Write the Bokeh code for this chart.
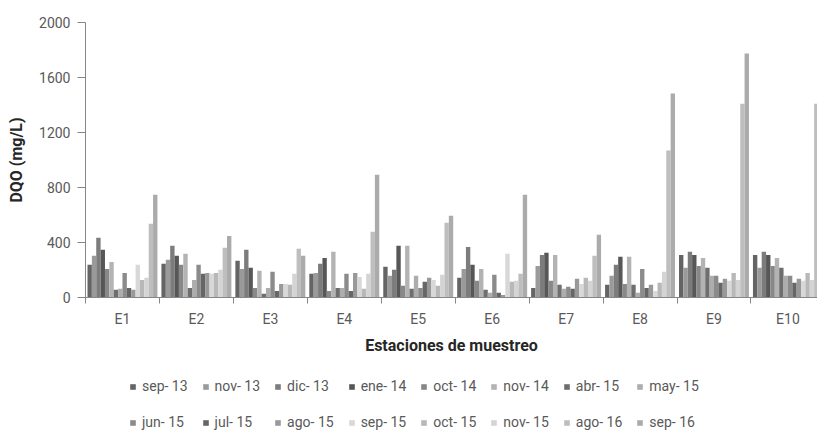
from bokeh.plotting import figure
from bokeh.layouts import column
from bokeh.models import Range1d, FixedTicker, Legend, LegendItem, ColumnDataSource
from bokeh.embed import file_html
from bokeh.resources import INLINE

stations = ["E1", "E2", "E3", "E4", "E5", "E6", "E7", "E8", "E9", "E10"]
months = ["sep- 13", "nov- 13", "dic- 13", "ene- 14", "oct- 14", "nov- 14", "abr- 15", "may- 15",
          "jun- 15", "jul- 15", "ago- 15", "sep- 15", "oct- 15", "nov- 15", "ago- 16", "sep- 16"]

sep_13 = [238, 245, 267, 172, 223, 143, 70, 92, 310, 310]
nov_13 = [303, 274, 208, 179, 158, 208, 230, 158, 216, 216]
dic_13 = [434, 376, 347, 245, 201, 368, 310, 238, 332, 332]
ene_14 = [347, 303, 216, 288, 376, 238, 325, 296, 310, 310]
oct_14 = [208, 238, 70, 48, 85, 121, 121, 99, 230, 230]
nov_14 = [259, 318, 194, 332, 376, 208, 310, 296, 288, 288]
abr_15 = [56, 70, 27, 70, 63, 56, 92, 92, 216, 216]
may_15 = [63, 128, 70, 70, 158, 34, 63, 34, 158, 158]
jun_15 = [179, 238, 187, 172, 70, 165, 78, 208, 158, 158]
jul_15 = [70, 172, 48, 48, 114, 34, 63, 70, 107, 107]
ago_15 = [56, 179, 99, 179, 143, 19, 136, 92, 136, 136]
sep_15 = [238, 172, 99, 150, 128, 318, 99, 48, 121, 121]
oct_15 = [128, 179, 92, 63, 85, 114, 143, 107, 179, 179]
nov_15 = [143, 201, 172, 172, 165, 121, 121, 187, 128, 128]
ago_16 = [536, 361, 354, 478, 543, 172, 303, 1069, 1410, 1410]
sep_16 = [747, 448, 303, 892, 594, 747, 456, 1483, 1774, 1774]

series = [sep_13, nov_13, dic_13, ene_14, oct_14, nov_14, abr_15, may_15,
          jun_15, jul_15, ago_15, sep_15, oct_15, nov_15, ago_16, sep_16]

colors = ["#646464", "#9a9a9a", "#7c7c7c", "#575757", "#888888", "#b3b3b3", "#6e6e6e", "#adadad",
          "#8b8b8b", "#666666", "#999999", "#d8d8d8", "#b8b8b8", "#d4d4d4", "#bebebe", "#ababab"]

y_ticks = [0, 400, 800, 1200, 1600, 2000]

FONT = "Roboto"
n = len(months)
pad = 0.027
bw = (1 - 2 * pad) / n

W = 817
LEG_H = 76

p = figure(width=W, height=433 - LEG_H, output_backend="svg", toolbar_location=None,
           x_range=Range1d(0, 9.90), y_range=Range1d(0, 2000),
           min_border_left=85, min_border_right=0, min_border_top=22, min_border_bottom=55)
p.outline_line_color = None
p.xgrid.visible = False
p.ygrid.visible = False

sources = []
for j, (vals, c) in enumerate(zip(series, colors)):
    xs = [k + pad + (j + 0.5) * bw for k in range(len(stations))]
    src = ColumnDataSource(dict(x=xs, top=vals))
    sources.append(src)
    p.vbar(x="x", top="top", bottom=0, width=bw, source=src,
           fill_color=c, line_color=None)

axis_col = "#868686"

# y axis
p.yaxis.ticker = FixedTicker(ticks=y_ticks)
p.yaxis.axis_label = "DQO (mg/L)"
p.yaxis.axis_label_text_font = FONT
p.yaxis.axis_label_text_font_style = "bold"
p.yaxis.axis_label_text_font_size = "16px"
p.yaxis.axis_label_text_color = "#262626"
p.yaxis.axis_label_standoff = 10
p.yaxis.major_label_text_font = FONT
p.yaxis.major_label_text_font_size = "14px"
p.yaxis.major_label_text_color = "#595959"
p.yaxis.major_label_standoff = 7
p.yaxis.major_tick_out = 8
p.yaxis.major_tick_in = 0
p.yaxis.minor_tick_line_color = None
p.yaxis.major_tick_line_color = axis_col
p.yaxis.axis_line_color = axis_col

# x axis
p.xaxis.ticker = FixedTicker(ticks=[k + 0.5 for k in range(len(stations))],
                             minor_ticks=list(range(len(stations) + 1)))
p.xaxis.major_label_overrides = {k + 0.5: s for k, s in enumerate(stations)}
p.xaxis.major_tick_line_color = None
p.xaxis.major_tick_out = 0
p.xaxis.major_tick_in = 0
p.xaxis.minor_tick_out = 6
p.xaxis.minor_tick_in = 0
p.xaxis.minor_tick_line_color = axis_col
p.xaxis.axis_line_color = axis_col
p.xaxis.major_label_standoff = 7
p.xaxis.major_label_text_font = FONT
p.xaxis.major_label_text_font_size = "14px"
p.xaxis.major_label_text_color = "#595959"
p.xaxis.axis_label = "Estaciones de muestreo"
p.xaxis.axis_label_text_font = FONT
p.xaxis.axis_label_text_font_style = "bold"
p.xaxis.axis_label_text_font_size = "16px"
p.xaxis.axis_label_text_color = "#262626"
p.xaxis.axis_label_standoff = 6

# legend strip (hidden proxy renderers share the chart's data)
p2 = figure(width=W, height=LEG_H, output_backend="svg", toolbar_location=None,
            x_range=Range1d(0, W), y_range=Range1d(0, LEG_H),
            min_border=0, min_border_left=0, min_border_right=0,
            min_border_top=0, min_border_bottom=0)
p2.xaxis.visible = False
p2.yaxis.visible = False
p2.xgrid.visible = False
p2.ygrid.visible = False
p2.outline_line_color = None

items = []
for m, c, src in zip(months, colors, sources):
    r = p2.vbar(x="x", top="top", bottom=0, width=bw, source=src,
                fill_color=c, line_color=None, visible=False)
    items.append(LegendItem(label=m, renderers=[r]))

legend = Legend(items=items, orientation="horizontal", ncols=8, location=(44, 0),
                glyph_width=7, glyph_height=7, label_standoff=6, label_width=42,
                label_height=22, spacing=14, padding=0, margin=0,
                border_line_color=None, background_fill_alpha=0,
                label_text_font=FONT, label_text_font_size="14px",
                label_text_color="#595959")
p2.add_layout(legend, "center")

layout = column(p, p2, spacing=0)
open("out.html", "w").write(file_html(layout, INLINE))
